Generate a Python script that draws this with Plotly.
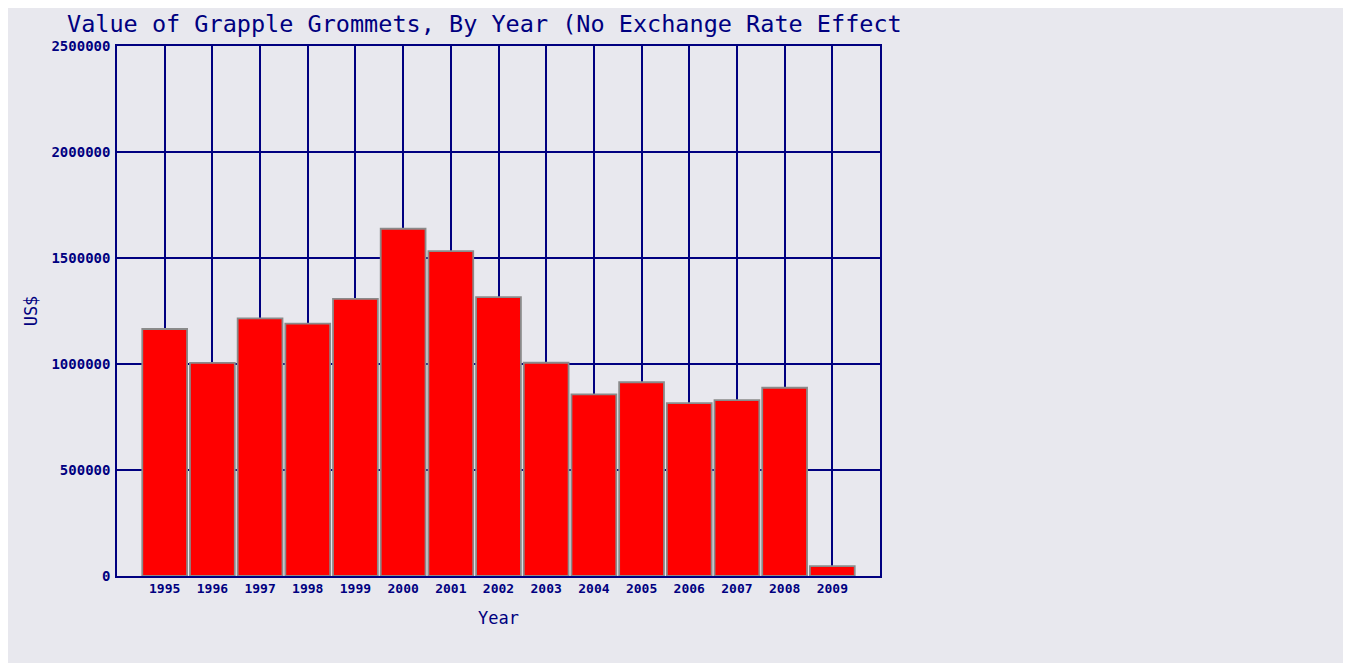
import plotly.graph_objects as go

years = ["1995", "1996", "1997", "1998", "1999", "2000", "2001", "2002",
         "2003", "2004", "2005", "2006", "2007", "2008", "2009"]
values = [1165000, 1005000, 1215000, 1190000, 1307000, 1638000, 1532000, 1315000,
          1006000, 857000, 914000, 815000, 830000, 888000, 47000]
y_ticks = [0, 500000, 1000000, 1500000, 2000000, 2500000]
y_tick_text = ["0", "500000", "1000000", "1500000", "2000000", "2500000"]

NAVY = "#000080"
BG = "#e8e8ee"
W, H = 1343, 655

fig = go.Figure()
fig.add_trace(go.Bar(
    x=years, y=values,
    marker=dict(color="#ff0000", line=dict(color="#8a8a8a", width=1.8)),
))

fig.update_layout(
    width=W, height=H,
    margin=dict(l=109, r=471, t=38, b=87),
    paper_bgcolor=BG, plot_bgcolor="rgba(0,0,0,0)",
    bargap=0.06,
    showlegend=False,
    title=dict(
        text="Value of Grapple Grommets, By Year (No Exchange Rate Effect",
        x=59 / W, xanchor="left", xref="container",
        y=1 - 16 / H, yanchor="middle", yref="container",
        font=dict(family="DejaVu Sans Mono", size=23.5, color=NAVY),
    ),
    font=dict(family="DejaVu Sans Mono", color=NAVY),
)

fig.update_xaxes(
    type="category", range=[-1, len(years)],
    showgrid=True, gridcolor=NAVY, gridwidth=1.5,
    showline=True, linecolor=NAVY, linewidth=1.5, mirror=True,
    ticks="", tickfont=dict(family="DejaVu Sans Mono", size=13, color=NAVY, weight="bold"),
    title=dict(text="Year", font=dict(family="DejaVu Sans Mono", size=17, color=NAVY), standoff=17),
)
fig.update_yaxes(
    range=[0, 2500000], tickvals=y_ticks, ticktext=y_tick_text,
    showgrid=True, gridcolor=NAVY, gridwidth=1.5, zeroline=False,
    showline=True, linecolor=NAVY, linewidth=1.5, mirror=True,
    ticks="", ticklabelstandoff=2,
    tickfont=dict(family="DejaVu Sans Mono", size=14, color=NAVY, weight="bold"),
    title=dict(text="US$", font=dict(family="DejaVu Sans Mono", size=17, color=NAVY), standoff=9),
)

fig.write_html("out.html")
